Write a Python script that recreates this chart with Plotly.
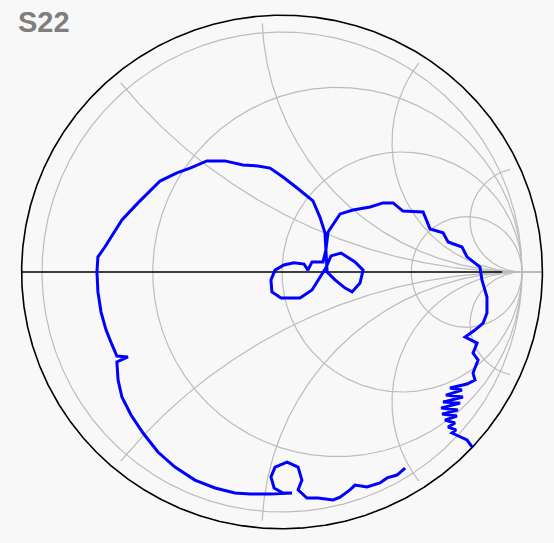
import numpy as np
import plotly.graph_objects as go

s22_re = [0.513, 0.479, 0.438, 0.408, 0.354, 0.304, 0.283, 0.242, 0.213, 0.150,
          0.104, 0.083, 0.067, 0.083, 0.067, 0.021, -0.029, -0.046, -0.033, 0.004,
          0.042, -0.050, -0.133, -0.196, -0.279, -0.363, -0.446, -0.517, -0.579, -0.629,
          -0.667, -0.683, -0.688, -0.642, -0.688, -0.708, -0.733, -0.754, -0.767, -0.771,
          -0.767, -0.738, -0.708, -0.667, -0.600, -0.550, -0.508, -0.438, -0.383, -0.313,
          -0.238, -0.163, -0.100, -0.050, 0.004, 0.063, 0.129, 0.158, 0.179, 0.183,
          0.171, 0.125, 0.108, 0.092, 0.050, 0.008, -0.029, -0.046, -0.042, -0.004,
          0.075, 0.125, 0.158, 0.183, 0.204, 0.246, 0.304, 0.338, 0.325, 0.292,
          0.263, 0.221, 0.188, 0.183, 0.192, 0.242, 0.296, 0.367, 0.421, 0.463,
          0.504, 0.588, 0.617, 0.671, 0.692, 0.750, 0.771, 0.825, 0.833, 0.854,
          0.854, 0.838, 0.804, 0.763, 0.813, 0.796, 0.817, 0.796, 0.804, 0.771,
          0.700, 0.750, 0.683, 0.754, 0.671, 0.742, 0.663, 0.733, 0.667, 0.729,
          0.679, 0.721, 0.692, 0.725, 0.708, 0.742, 0.771, 0.792]
s22_im = [-0.817, -0.846, -0.858, -0.879, -0.896, -0.888, -0.908, -0.938, -0.950, -0.942,
          -0.942, -0.921, -0.908, -0.867, -0.813, -0.792, -0.813, -0.854, -0.900, -0.921,
          -0.921, -0.925, -0.925, -0.921, -0.900, -0.867, -0.813, -0.750, -0.671, -0.596,
          -0.521, -0.450, -0.375, -0.354, -0.350, -0.304, -0.242, -0.167, -0.083, 0.000,
          0.063, 0.104, 0.154, 0.217, 0.288, 0.338, 0.379, 0.413, 0.433, 0.463,
          0.463, 0.446, 0.442, 0.433, 0.396, 0.350, 0.296, 0.229, 0.163, 0.092,
          0.042, 0.042, 0.008, 0.033, 0.038, 0.029, 0.008, -0.033, -0.083, -0.108,
          -0.108, -0.075, -0.025, 0.017, 0.067, 0.079, 0.042, 0.008, -0.046, -0.083,
          -0.067, -0.033, 0.000, 0.092, 0.167, 0.242, 0.258, 0.271, 0.288, 0.288,
          0.254, 0.250, 0.179, 0.163, 0.125, 0.104, 0.063, 0.021, -0.033, -0.104,
          -0.171, -0.213, -0.242, -0.271, -0.296, -0.338, -0.367, -0.421, -0.450, -0.467,
          -0.483, -0.492, -0.513, -0.521, -0.542, -0.546, -0.567, -0.575, -0.592, -0.600,
          -0.617, -0.629, -0.646, -0.658, -0.671, -0.688, -0.700, -0.729]

# Smith chart grid values
r_values = [0.3, 1.0, 1 / 0.3]
x_values = [0.5, 1.0, 2.0, 5.0]
GRID = "#bcbcbc"
ARC_SCALE = 260 / 240      # reactance arcs as drawn in the original
ARC_CLIP = 250 / 240
BORDER_X, BORDER_Y = 1.085, 1.07

fig = go.Figure()

def add_line(xs, ys, color=GRID, width=1.2):
    fig.add_trace(go.Scatter(x=xs, y=ys, mode="lines", hoverinfo="skip",
                             line=dict(color=color, width=width), showlegend=False))

t = np.linspace(0, 2 * np.pi, 1441)
# unit circle
add_line(np.cos(t), np.sin(t))
# constant resistance circles
for r in r_values:
    c, rad = r / (1 + r), 1 / (1 + r)
    add_line(c + rad * np.cos(t), rad * np.sin(t))
# constant reactance arcs
for xv in x_values:
    for s in (1, -1):
        rad = ARC_SCALE / xv
        gx = 1 + rad * np.cos(t)
        gy = s * rad + rad * np.sin(t)
        mask = (np.hypot(gx, gy) > ARC_CLIP) | (gx > 1.0)
        gx = np.where(mask, np.nan, gx)
        gy = np.where(mask, np.nan, gy)
        add_line(gx, gy)
# right end of real axis (grey)
add_line([0.917, BORDER_X], [0, 0], width=2.2)
# real axis (black)
add_line([-BORDER_X, 0.917], [0, 0], color="black", width=1.5)
# outer border
add_line(BORDER_X * np.cos(t), BORDER_Y * np.sin(t), color="black", width=1.6)

fig.add_trace(go.Scatter(x=s22_re, y=s22_im, mode="lines", name="S22",
                         line=dict(color="#0000ff", width=3), showlegend=False))

fig.add_annotation(text="<b>S22</b>", xref="paper", yref="paper", x=16 / 554, y=1 - 4 / 543,
                   xanchor="left", yanchor="top", showarrow=False,
                   font=dict(family="Liberation Sans, Arial", size=29, color="#7f7f7f"))

fig.update_layout(width=554, height=543, margin=dict(l=0, r=0, t=0, b=0),
                  paper_bgcolor="#f8f8f8", plot_bgcolor="#f8f8f8",
                  xaxis=dict(range=[-282 / 240, 272 / 240], visible=False, fixedrange=True),
                  yaxis=dict(range=[(272 - 543) / 240, 272 / 240], visible=False, fixedrange=True))
fig.write_html("out.html", config={"displayModeBar": False, "staticPlot": True},
               post_script="document.body.style.margin='0';document.body.style.overflow='hidden';"
                           "document.body.style.background='#f8f8f8';")
